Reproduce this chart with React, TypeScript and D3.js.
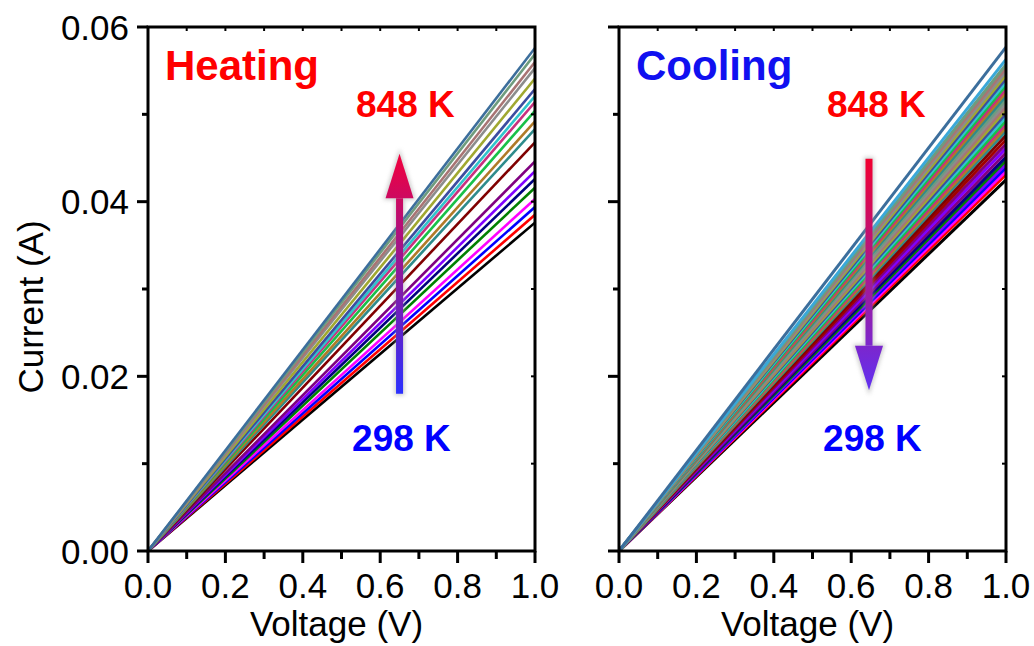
import React from 'react';
import * as d3 from 'd3';

// ---------- data ----------
const voltage = [0, 1.0];
const xMajorTicks = [0, 0.2, 0.4, 0.6, 0.8, 1.0];
const xMinorTicks = [0.1, 0.3, 0.5, 0.7, 0.9];
const yMajorTicks = [0, 0.02, 0.04, 0.06];
const yMinorTicks = [0.01, 0.03, 0.05];

// current at 1.0 V for each heating curve (bottom -> top)
const heatingCurrent = [
  0.0376, 0.0385, 0.0394, 0.0403, 0.0416, 0.0426, 0.0435, 0.0446, 0.0468, 0.0483,
  0.0492, 0.0504, 0.0514, 0.0521, 0.0529, 0.0541, 0.0553, 0.0560, 0.0569, 0.0576,
];
const heatingColors = [
  '#000000', '#ff0000', '#0000ff', '#ff00ff', '#008000', '#000080', '#8000ff', '#800080', '#800000', '#2e8b8b',
  '#b07a28', '#18c048', '#c8307e', '#30c4cc', '#3c4ca0', '#a0a830', '#8c8c8c', '#a87474', '#6e9c7e', '#3c6e9c',
];

// current at 1.0 V for each cooling curve (bottom -> top)
const coolingCurrent = [
  0.0425, 0.0431, 0.0435, 0.0439, 0.0443, 0.0447, 0.0451, 0.0456, 0.0461, 0.0466,
  0.0471, 0.0476, 0.0481, 0.0485, 0.0489, 0.0493, 0.0497, 0.0501, 0.0505, 0.0509,
  0.0513, 0.0517, 0.0521, 0.0525, 0.0529, 0.0533, 0.0537, 0.0541, 0.0545, 0.0549,
  0.0553, 0.0557, 0.0563, 0.0577,
];
const coolingColors = [
  '#000000', '#ff0000', '#ff00ff', '#0000ff', '#8000ff', '#008000', '#000080', '#800080', '#8000ff', '#800080',
  '#a00000', '#800000', '#2e8b8b', '#b07a28', '#c8307e', '#18c048', '#30c4cc', '#3c4ca0', '#a0a830', '#a87474',
  '#8c8c8c', '#6e9c7e', '#2e8b8b', '#b07a28', '#c8307e', '#18c048', '#30c4cc', '#3c4ca0', '#a0a830', '#8c8c8c',
  '#a87474', '#6e9c7e', '#3aa8d8', '#3c6e9c',
];

const panelTitles = ['Heating', 'Cooling'];
const panelTitleColors = ['#ff0000', '#1010f0'];
const hotLabel = '848 K';
const coldLabel = '298 K';

// ---------- layout ----------
const W = 1034;
const H = 646;
const yTopPx = 27;
const yBotPx = 551;
const panelX = [
  [148, 535],
  [619, 1006],
];
const FONT = "'Liberation Sans', Arial, Helvetica, sans-serif";

const y = d3.scaleLinear().domain([0, 0.06]).range([yBotPx, yTopPx]);

function Arrow({ x, yStart, yEnd, headBase, id, colorStart, colorEnd }) {
  const shaftW = 7;
  const headW = 28;
  const shaftPath = `M${x - shaftW / 2},${yStart} L${x + shaftW / 2},${yStart} L${x + shaftW / 2},${headBase} L${x - shaftW / 2},${headBase} Z`;
  const headPath = `M${x - headW / 2},${headBase} L${x},${yEnd} L${x + headW / 2},${headBase} Z`;
  return (
    <g>
      <defs>
        <linearGradient id={id} gradientUnits="userSpaceOnUse" x1={x} x2={x} y1={yStart} y2={yEnd}>
          <stop offset="0" stopColor={colorStart} />
          <stop offset="1" stopColor={colorEnd} />
        </linearGradient>
      </defs>
      <g filter="url(#glow)" opacity={0.5}>
        <path d={shaftPath} fill="#9a9a9a" stroke="#9a9a9a" strokeWidth={3} />
        <path d={headPath} fill="#9a9a9a" stroke="#9a9a9a" strokeWidth={3} />
      </g>
      <path d={shaftPath} fill={`url(#${id})`} />
      <path d={headPath} fill={`url(#${id})`} />
    </g>
  );
}

function Panel({ idx }) {
  const [x0, x1] = panelX[idx];
  const x = d3.scaleLinear().domain([0, 1]).range([x0, x1]);
  const currents = idx === 0 ? heatingCurrent : coolingCurrent;
  const colors = idx === 0 ? heatingColors : coolingColors;
  const clipId = `clip${idx}`;
  const lw = idx === 0 ? 2.6 : 3;

  return (
    <g>
      <defs>
        <clipPath id={clipId}>
          <rect x={x0} y={yTopPx} width={x1 - x0} height={yBotPx - yTopPx} />
        </clipPath>
      </defs>
      <g clipPath={`url(#${clipId})`}>
        {currents.map((c, i) => {
          const l = d3
            .line<number>()
            .x((v) => x(v))
            .y((v) => y(v * c));
          return <path key={i} d={l(voltage) || ''} stroke={colors[i]} strokeWidth={lw} fill="none" />;
        })}
      </g>

      {/* frame */}
      <rect x={x0} y={yTopPx} width={x1 - x0} height={yBotPx - yTopPx} fill="none" stroke="#000" strokeWidth={3} />

      {/* bottom ticks outward */}
      {xMajorTicks.map((t) => (
        <line key={'xb' + t} x1={x(t)} x2={x(t)} y1={yBotPx} y2={yBotPx + 12} stroke="#000" strokeWidth={3} />
      ))}
      {xMinorTicks.map((t) => (
        <line key={'xbm' + t} x1={x(t)} x2={x(t)} y1={yBotPx} y2={yBotPx + 8} stroke="#000" strokeWidth={3} />
      ))}
      {/* top ticks inward */}
      {[...xMajorTicks, ...xMinorTicks].map((t) => (
        <line key={'xt' + t} x1={x(t)} x2={x(t)} y1={yTopPx} y2={yTopPx + 4} stroke="#000" strokeWidth={2} />
      ))}
      {/* left ticks outward */}
      {yMajorTicks.map((t) => (
        <line key={'yl' + t} x1={x0 - 11} x2={x0} y1={y(t)} y2={y(t)} stroke="#000" strokeWidth={3} />
      ))}
      {yMinorTicks.map((t) => (
        <line key={'ylm' + t} x1={x0 - 6} x2={x0} y1={y(t)} y2={y(t)} stroke="#000" strokeWidth={3} />
      ))}
      {/* right ticks inward */}
      {[...yMajorTicks, ...yMinorTicks].map((t) => (
        <line key={'yr' + t} x1={x1 - 4} x2={x1} y1={y(t)} y2={y(t)} stroke="#000" strokeWidth={2} />
      ))}

      {/* x tick labels */}
      {xMajorTicks.map((t) => (
        <text key={'xl' + t} x={x(t)} y={598} textAnchor="middle" fontSize={35} fontFamily={FONT} fill="#000">
          {d3.format('.1f')(t)}
        </text>
      ))}
      {/* y tick labels (left panel only) */}
      {idx === 0 &&
        yMajorTicks.map((t) => (
          <text key={'ytl' + t} x={x0 - 19} y={y(t)} dy="0.36em" textAnchor="end" fontSize={35} fontFamily={FONT} fill="#000">
            {d3.format('.2f')(t)}
          </text>
        ))}

      <text x={(x0 + x1) / 2 - 5} y={636} textAnchor="middle" fontSize={35} fontFamily={FONT} fill="#000">
        Voltage (V)
      </text>
      {idx === 0 && (
        <text transform={`translate(43,${(yTopPx + yBotPx) / 2 + 18}) rotate(-90)`} textAnchor="middle" fontSize={35} fontFamily={FONT} fill="#000">
          Current (A)
        </text>
      )}

      {/* panel title */}
      <text x={x0 + 17} y={80} fontSize={42} fontWeight="bold" fontFamily={FONT} fill={panelTitleColors[idx]}>
        {panelTitles[idx]}
      </text>

      {/* temperature labels */}
      <text x={x(0.665)} y={y(0.0497)} textAnchor="middle" fontSize={37} fontWeight="bold" fontFamily={FONT} fill="#ff0000">
        {hotLabel}
      </text>
      <text x={x(0.655)} y={y(0.0114)} textAnchor="middle" fontSize={37} fontWeight="bold" fontFamily={FONT} fill="#0000ff">
        {coldLabel}
      </text>

      {idx === 0 ? (
        <Arrow x={x(0.65)} yStart={y(0.018)} yEnd={y(0.0455)} headBase={y(0.0404)} id="gradUp" colorStart="#2a30ff" colorEnd="#f2003c" />
      ) : (
        <Arrow x={x(0.646)} yStart={y(0.0449)} yEnd={y(0.0184)} headBase={y(0.0235)} id="gradDown" colorStart="#f20030" colorEnd="#6030f2" />
      )}
    </g>
  );
}

export default function App() {
  return (
    <svg width={W} height={H} style={{ position: 'absolute', left: 0, top: 0, background: '#fff' }}>
      <defs>
        <filter id="glow" x="-50%" y="-20%" width="200%" height="140%">
          <feGaussianBlur stdDeviation="2" />
        </filter>
      </defs>
      <rect width={W} height={H} fill="#fff" />
      <Panel idx={0} />
      <Panel idx={1} />
    </svg>
  );
}
